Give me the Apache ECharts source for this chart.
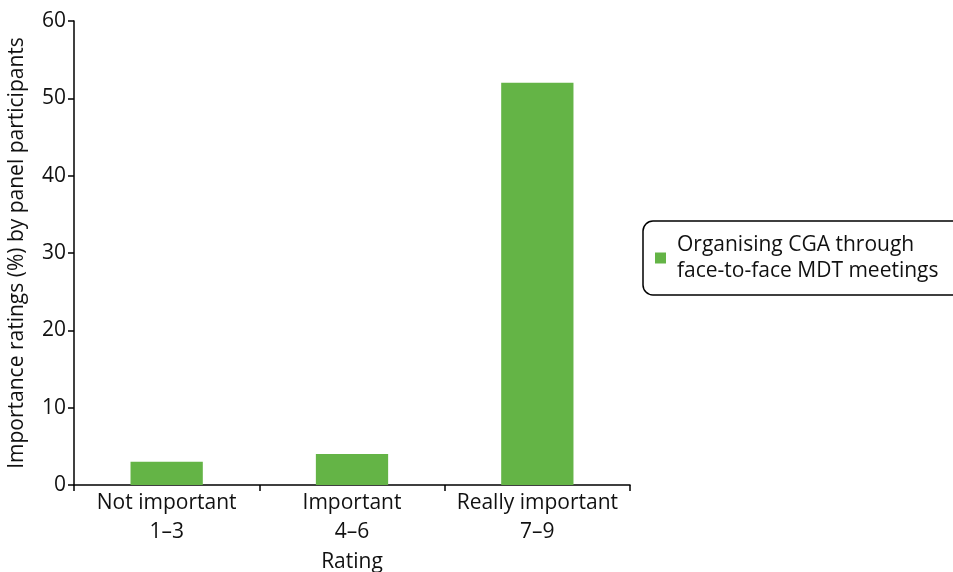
<!DOCTYPE html>
<html><head><meta charset="utf-8">
<script src="https://cdn.jsdelivr.net/npm/echarts@6/dist/echarts.min.js"></script>
<style>html,body{margin:0;padding:0;background:#fff}#c{width:953px;height:572px}</style>
</head><body><div id="c"></div>
<script>
const categories = ['Not important\n1\u20133', 'Important\n4\u20136', 'Really important\n7\u20139'];
const values = [3, 4, 52];
const seriesName = 'Organising CGA through\nface-to-face MDT meetings';
const yTicks = { min: 0, max: 60, interval: 10 };

const chart = echarts.init(document.getElementById('c'));
const font = '"Open Sans", "Noto Sans", sans-serif';
chart.setOption({
  animation: false,
  textStyle: { fontFamily: font },
  grid: { left: 74, right: 323, top: 21, bottom: 87, containLabel: false, outerBoundsMode: 'none' },
  legend: {
    left: 643, top: 221,
    orient: 'vertical',
    data: [seriesName],
    icon: 'rect', itemWidth: 11, itemHeight: 11, itemGap: 0,
    padding: [11, 60, 11, 12],
    borderColor: '#000', borderWidth: 1.5, borderRadius: 10,
    textStyle: { fontSize: 21, color: '#111', fontFamily: font, lineHeight: 26, padding: [0, 0, 0, 6] }
  },
  xAxis: {
    type: 'category', data: categories,
    name: 'Rating', nameLocation: 'middle', nameGap: 62,
    nameTextStyle: { fontSize: 21, color: '#111', fontFamily: font },
    axisLine: { lineStyle: { color: '#000', width: 1.5 } },
    axisTick: { show: true, alignWithLabel: false, length: 6, lineStyle: { color: '#000', width: 1.5 } },
    axisLabel: { interval: 0, fontSize: 21, color: '#111', lineHeight: 29, margin: 4, fontFamily: font, hideOverlap: false }
  },
  yAxis: {
    type: 'value', min: yTicks.min, max: yTicks.max, interval: yTicks.interval,
    name: 'Importance ratings (%) by panel participants', nameLocation: 'middle', nameGap: 46,
    nameTextStyle: { fontSize: 21, color: '#111', fontFamily: font },
    axisLine: { show: true, lineStyle: { color: '#000', width: 1.5 } },
    axisTick: { show: true, length: 6, lineStyle: { color: '#000', width: 1.5 } },
    axisLabel: { fontSize: 21, color: '#111', margin: 8, fontFamily: font },
    splitLine: { show: false }
  },
  series: [{
    name: seriesName, type: 'bar', data: values, barWidth: '39%',
    itemStyle: { color: '#64b446' }
  }]
});
</script></body></html>
